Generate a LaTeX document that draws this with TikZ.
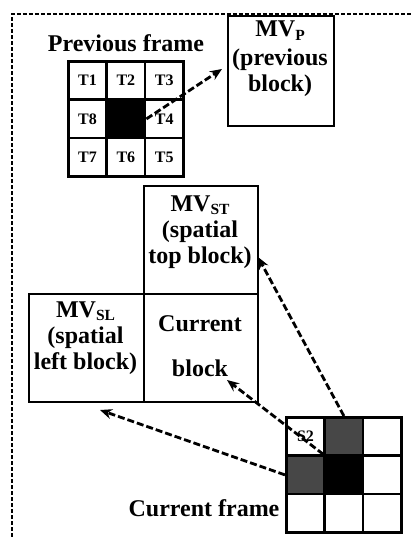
\documentclass[tikz,border=0pt]{standalone}
\usepackage{fontspec}
\setmainfont{Liberation Serif}
\usetikzlibrary{arrows.meta}
\newcommand\mysub[1]{\raisebox{-0.3ex}{\fontsize{15.5}{15.5}\selectfont #1}}
\begin{document}
\begin{tikzpicture}[x=1pt,y=-1pt]
\useasboundingbox (0,0) rectangle (411,537);
\tikzset{
 cell/.style={draw, line width=2.6pt, minimum size=38.4pt, inner sep=0pt, anchor=north west, font=\bfseries\fontsize{16}{16}\selectfont},
 box/.style={draw, line width=1.8pt, inner sep=0pt, anchor=north west},
 txt/.style={align=center, inner sep=0pt, font=\bfseries\fontsize{24}{26}\selectfont},
 darr/.style={line width=2.8pt, dash pattern=on 7pt off 3pt, -{Stealth[length=12pt,width=10pt]}},
 border/.style={line width=2pt, dash pattern=on 4pt off 2pt},
}
% outer dashed border
\draw[border] (12,537) -- (12,14) -- (411,14);

% previous frame grid
\node[txt] (ptitle) at (126,43) {Previous frame};
\node[cell] (p00) at (67,60) {T1};
\node[cell] (p10) at (105.4,60) {T2};
\node[cell] (p20) at (143.8,60) {T3};
\node[cell] (p01) at (67,98.4) {T8};
\node[cell, fill=black] (p11) at (105.4,98.4) {};
\node[cell] (p21) at (143.8,98.4) {T4};
\node[cell] (p02) at (67,136.8) {T7};
\node[cell] (p12) at (105.4,136.8) {T6};
\node[cell] (p22) at (143.8,136.8) {T5};

% MV_P box
\node[box, minimum width=106pt, minimum height=110pt] (mvp) at (227,15) {};
\node[txt] (mvpt) at (280,59) {MV\mysub{P}\\[3pt](previous\\block)};

% spatial blocks
\node[box, minimum width=114pt, minimum height=108pt] (mvst) at (143,185) {};
\node[txt] (mvstt) at (200,232) {MV\mysub{ST}\\(spatial\\top block)};
\node[box, minimum width=115pt, minimum height=108pt] (mvsl) at (28,293) {};
\node[txt] (mvslt) at (85.5,338) {MV\mysub{SL}\\(spatial\\left block)};
\node[box, minimum width=114pt, minimum height=108pt] (cur) at (143,293) {};
\node[txt] (curt) at (200,346) {Current\\[19pt]block};

% current frame grid
\node[txt] (ctitle) at (204,508) {Current frame};
\node[cell] (c00) at (285,416) {S2};
\node[cell, fill=black!72] (c10) at (323.4,416) {};
\node[cell] (c20) at (361.8,416) {};
\node[cell, fill=black!72] (c01) at (285,454.4) {};
\node[cell, fill=black] (c11) at (323.4,454.4) {};
\node[cell] (c21) at (361.8,454.4) {};
\node[cell] (c02) at (285,492.8) {};
\node[cell] (c12) at (323.4,492.8) {};
\node[cell] (c22) at (361.8,492.8) {};

% arrow targets
\coordinate (tP) at (222,69);
\coordinate (tST) at (258,257);
\coordinate (tCur) at (227,380);
\coordinate (tSL) at (100,410);

\draw[darr] (p11.east) -- (tP);
\draw[darr] (c10.north) -- (tST);
\draw[darr] (c11.north west) -- (tCur);
\draw[darr] (c01.west) -- (tSL);
\end{tikzpicture}
\end{document}
